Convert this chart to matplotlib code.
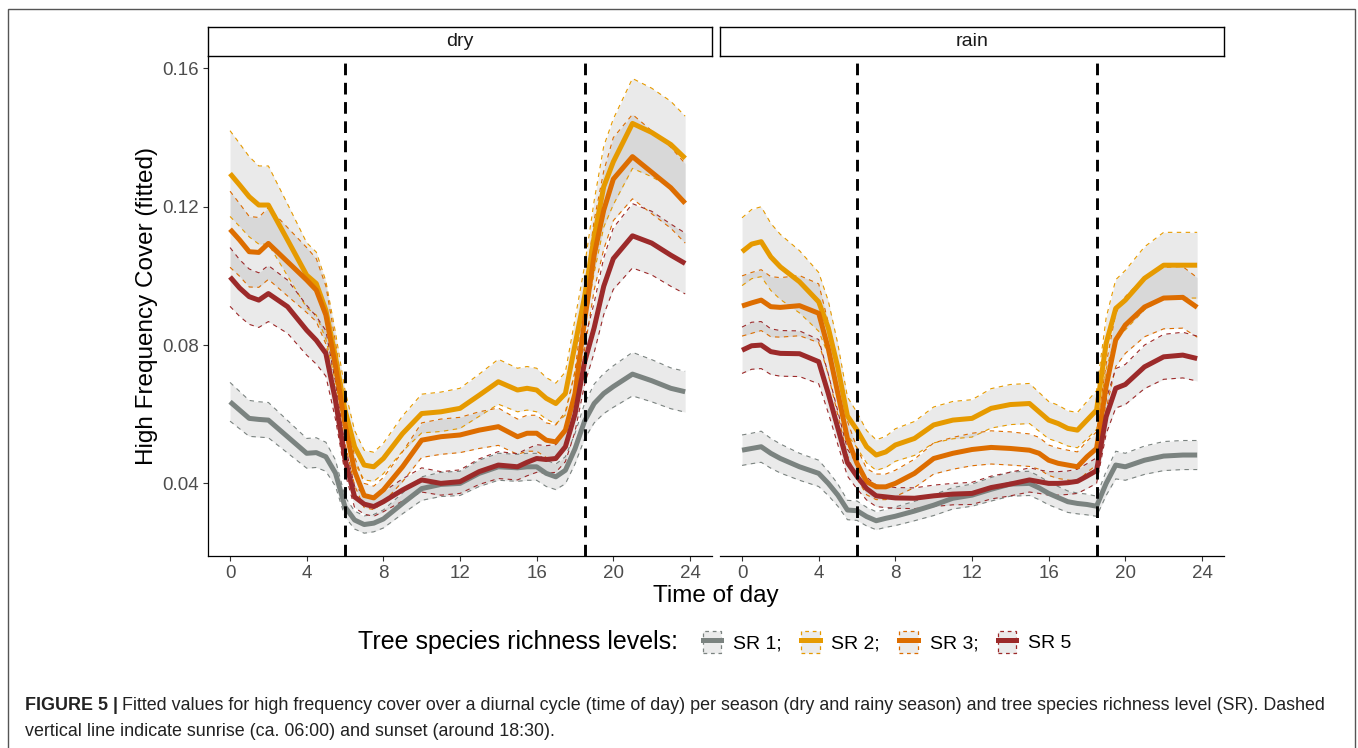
import numpy as np
import matplotlib
matplotlib.use("Agg")
import matplotlib.pyplot as plt
from matplotlib.patches import Rectangle, Patch
from matplotlib.lines import Line2D
from matplotlib.legend_handler import HandlerTuple

plt.rcParams['font.family'] = ['Liberation Sans', 'DejaVu Sans']

# time of day (hours) at which the fitted values are read
hours = [0, 0.5, 1, 1.5, 2, 3, 4, 4.5, 5, 5.5, 6, 6.5, 7, 7.5, 8, 9, 10, 11, 12, 13,
         14, 15, 15.5, 16, 16.5, 17, 17.5, 18, 18.5, 19, 19.5, 20, 21, 22, 23, 23.75]

levels = ["SR 1", "SR 2", "SR 3", "SR 5"]
colors = ["#7B8380", "#E69A00", "#DD6D00", "#9C2A2A"]

# dry season: fitted values
dry_sr1 = [0.0636, 0.0612, 0.0588, 0.0585, 0.0583, 0.0535, 0.0487, 0.0489, 0.0477, 0.0430,
           0.0332, 0.0294, 0.0281, 0.0285, 0.0297, 0.0342, 0.0385, 0.0397, 0.0400, 0.0429,
           0.0448, 0.0445, 0.0448, 0.0448, 0.0429, 0.0419, 0.0438, 0.0500, 0.0580, 0.0631,
           0.0660, 0.0680, 0.0716, 0.0697, 0.0675, 0.0665]
dry_sr2 = [0.1296, 0.1263, 0.1229, 0.1205, 0.1205, 0.1104, 0.1002, 0.0978, 0.0901, 0.0766,
           0.0612, 0.0506, 0.0453, 0.0448, 0.0472, 0.0544, 0.0602, 0.0607, 0.0617, 0.0655,
           0.0694, 0.0670, 0.0675, 0.0670, 0.0646, 0.0631, 0.0660, 0.0800, 0.0940, 0.1113,
           0.1258, 0.1330, 0.1441, 0.1415, 0.1380, 0.1340]
dry_sr3 = [0.1135, 0.1104, 0.1070, 0.1068, 0.1094, 0.1041, 0.0988, 0.0959, 0.0887, 0.0740,
           0.0570, 0.0435, 0.0365, 0.0358, 0.0381, 0.0448, 0.0525, 0.0535, 0.0540, 0.0554,
           0.0564, 0.0535, 0.0545, 0.0545, 0.0525, 0.0520, 0.0554, 0.0660, 0.0870, 0.1060,
           0.1190, 0.1280, 0.1345, 0.1300, 0.1255, 0.1210]
dry_sr5 = [0.0997, 0.0965, 0.0940, 0.0930, 0.0949, 0.0911, 0.0843, 0.0814, 0.0776, 0.0640,
           0.0470, 0.0361, 0.0340, 0.0333, 0.0347, 0.0381, 0.0410, 0.0400, 0.0405, 0.0434,
           0.0453, 0.0448, 0.0461, 0.0472, 0.0469, 0.0472, 0.0506, 0.0600, 0.0750, 0.0850,
           0.0970, 0.1050, 0.1116, 0.1095, 0.1060, 0.1036]

# dry season: half width of the confidence band
dry_hw1 = [0.0056, 0.0054, 0.0052, 0.0051, 0.0051, 0.0047, 0.0043, 0.0043, 0.0042, 0.0038,
           0.0029, 0.0026, 0.0025, 0.0025, 0.0026, 0.0030, 0.0034, 0.0035, 0.0035, 0.0038,
           0.0039, 0.0039, 0.0039, 0.0039, 0.0038, 0.0037, 0.0039, 0.0044, 0.0051, 0.0056,
           0.0058, 0.0060, 0.0063, 0.0061, 0.0059, 0.0059]
dry_hw2 = [0.0124, 0.0120, 0.0116, 0.0113, 0.0113, 0.0104, 0.0094, 0.0091, 0.0084, 0.0071,
           0.0057, 0.0047, 0.0043, 0.0042, 0.0044, 0.0051, 0.0056, 0.0057, 0.0058, 0.0061,
           0.0065, 0.0063, 0.0063, 0.0063, 0.0060, 0.0059, 0.0062, 0.0075, 0.0088, 0.0104,
           0.0117, 0.0124, 0.0130, 0.0128, 0.0125, 0.0122]
dry_hw3 = [0.0110, 0.0105, 0.0102, 0.0101, 0.0104, 0.0099, 0.0094, 0.0091, 0.0084, 0.0070,
           0.0054, 0.0041, 0.0035, 0.0034, 0.0036, 0.0043, 0.0050, 0.0051, 0.0051, 0.0053,
           0.0054, 0.0051, 0.0052, 0.0052, 0.0050, 0.0049, 0.0053, 0.0063, 0.0083, 0.0101,
           0.0113, 0.0120, 0.0122, 0.0120, 0.0117, 0.0115]
dry_hw5 = [0.0085, 0.0082, 0.0080, 0.0079, 0.0081, 0.0077, 0.0072, 0.0069, 0.0066, 0.0054,
           0.0040, 0.0031, 0.0029, 0.0028, 0.0029, 0.0032, 0.0035, 0.0034, 0.0034, 0.0037,
           0.0039, 0.0038, 0.0039, 0.0040, 0.0040, 0.0040, 0.0043, 0.0051, 0.0064, 0.0072,
           0.0082, 0.0089, 0.0093, 0.0092, 0.0090, 0.0088]

# rainy season: fitted values
rain_sr1 = [0.0496, 0.0501, 0.0506, 0.0487, 0.0472, 0.0448, 0.0429, 0.0400, 0.0366, 0.0323,
            0.0321, 0.0304, 0.0292, 0.0299, 0.0305, 0.0320, 0.0337, 0.0357, 0.0366, 0.0383,
            0.0398, 0.0400, 0.0387, 0.0371, 0.0359, 0.0347, 0.0342, 0.0339, 0.0334, 0.0400,
            0.0453, 0.0448, 0.0467, 0.0479, 0.0482, 0.0482]
rain_sr2 = [0.1070, 0.1092, 0.1099, 0.1055, 0.1026, 0.0983, 0.0925, 0.0850, 0.0735, 0.0595,
            0.0554, 0.0506, 0.0482, 0.0491, 0.0511, 0.0530, 0.0569, 0.0583, 0.0588, 0.0617,
            0.0628, 0.0631, 0.0607, 0.0583, 0.0573, 0.0559, 0.0554, 0.0583, 0.0612, 0.0805,
            0.0906, 0.0930, 0.0993, 0.1031, 0.1031, 0.1031]
rain_sr3 = [0.0913, 0.0922, 0.0930, 0.0911, 0.0909, 0.0914, 0.0892, 0.0790, 0.0660, 0.0530,
            0.0458, 0.0405, 0.0390, 0.0390, 0.0400, 0.0429, 0.0472, 0.0487, 0.0498, 0.0504,
            0.0501, 0.0496, 0.0487, 0.0467, 0.0458, 0.0453, 0.0448, 0.0477, 0.0501, 0.0680,
            0.0815, 0.0858, 0.0910, 0.0936, 0.0938, 0.0909]
rain_sr5 = [0.0785, 0.0798, 0.0800, 0.0781, 0.0776, 0.0775, 0.0752, 0.0660, 0.0560, 0.0460,
            0.0420, 0.0385, 0.0364, 0.0361, 0.0358, 0.0357, 0.0364, 0.0369, 0.0371, 0.0388,
            0.0398, 0.0410, 0.0405, 0.0400, 0.0400, 0.0402, 0.0406, 0.0421, 0.0437, 0.0593,
            0.0675, 0.0686, 0.0737, 0.0766, 0.0771, 0.0761]

# rainy season: half width of the confidence band
rain_hw1 = [0.0044, 0.0044, 0.0045, 0.0043, 0.0042, 0.0039, 0.0038, 0.0035, 0.0032, 0.0028,
            0.0028, 0.0027, 0.0026, 0.0026, 0.0027, 0.0028, 0.0030, 0.0031, 0.0032, 0.0034,
            0.0035, 0.0035, 0.0034, 0.0033, 0.0032, 0.0031, 0.0030, 0.0030, 0.0029, 0.0035,
            0.0040, 0.0039, 0.0041, 0.0042, 0.0042, 0.0042]
rain_hw2 = [0.0098, 0.0100, 0.0101, 0.0097, 0.0094, 0.0090, 0.0085, 0.0078, 0.0068, 0.0055,
            0.0051, 0.0047, 0.0044, 0.0045, 0.0047, 0.0049, 0.0052, 0.0054, 0.0054, 0.0057,
            0.0058, 0.0058, 0.0056, 0.0054, 0.0053, 0.0051, 0.0051, 0.0054, 0.0056, 0.0074,
            0.0083, 0.0086, 0.0091, 0.0095, 0.0095, 0.0095]
rain_hw3 = [0.0087, 0.0088, 0.0088, 0.0087, 0.0086, 0.0087, 0.0085, 0.0075, 0.0063, 0.0050,
            0.0044, 0.0038, 0.0037, 0.0037, 0.0038, 0.0041, 0.0045, 0.0046, 0.0047, 0.0048,
            0.0048, 0.0047, 0.0046, 0.0044, 0.0044, 0.0043, 0.0043, 0.0045, 0.0048, 0.0065,
            0.0077, 0.0082, 0.0086, 0.0089, 0.0089, 0.0086]
rain_hw5 = [0.0067, 0.0068, 0.0068, 0.0066, 0.0066, 0.0066, 0.0064, 0.0056, 0.0048, 0.0039,
            0.0036, 0.0033, 0.0031, 0.0031, 0.0030, 0.0030, 0.0031, 0.0031, 0.0032, 0.0033,
            0.0034, 0.0035, 0.0034, 0.0034, 0.0034, 0.0034, 0.0035, 0.0036, 0.0037, 0.0050,
            0.0057, 0.0058, 0.0063, 0.0065, 0.0066, 0.0065]

sunrise = 6.0
sunset = 18.5
x_ticks = [0, 4, 8, 12, 16, 20, 24]
y_ticks = [0.04, 0.08, 0.12, 0.16]
y_labels = ["0.04", "0.08", "0.12", "0.16"]

caption_bold = "FIGURE 5 |"
caption_1 = ("Fitted values for high frequency cover over a diurnal cycle (time of day) per season "
             "(dry and rainy season) and tree species richness level (SR). Dashed")
caption_2 = "vertical line indicate sunrise (ca. 06:00) and sunset (around 18:30)."

W, H = 1358, 748
fig = plt.figure(figsize=(W / 100, H / 100), dpi=100)


def fx(px):
    return px / W


def fy(py):
    return 1 - py / H


panels = [
    ("dry", 208, [dry_sr1, dry_sr2, dry_sr3, dry_sr5], [dry_hw1, dry_hw2, dry_hw3, dry_hw5]),
    ("rain", 720, [rain_sr1, rain_sr2, rain_sr3, rain_sr5], [rain_hw1, rain_hw2, rain_hw3, rain_hw5]),
]

tick_grey = "#4D4D4D"
for k, (name, left, series, widths) in enumerate(panels):
    ax = fig.add_axes([fx(left), fy(556), 504 / W, 500 / H])
    x = np.array(hours)
    # ribbons with dashed outlines
    for vals, hw, c in zip(series, widths, colors):
        m = np.array(vals)
        w = np.array(hw)
        ax.fill_between(x, m - w, m + w, color="#808080", alpha=0.16, lw=0, zorder=1)
        ax.plot(x, m - w, color=c, lw=0.8, ls=(0, (4, 4)), zorder=2)
        ax.plot(x, m + w, color=c, lw=0.8, ls=(0, (4, 4)), zorder=2)
    for vals, c in zip(series, colors):
        ax.plot(x, vals, color=c, lw=3.6, solid_capstyle="butt", zorder=3)
    for v in (sunrise, sunset):
        ax.axvline(v, color="black", lw=2.1, ls=(0, (4, 2.6)), zorder=4)

    ax.set_xlim(-1.15, 25.15)
    ax.set_ylim(0.019, 0.1636)
    ax.set_xticks(x_ticks)
    ax.set_xticklabels([str(t) for t in x_ticks])
    ax.set_yticks(y_ticks)
    ax.set_yticklabels(y_labels)
    ax.tick_params(axis="both", direction="out", length=3.5, width=0.8, color="#333333",
                   labelcolor=tick_grey, labelsize=13.5, pad=3)
    for s in ("top", "right"):
        ax.spines[s].set_visible(False)
    ax.spines["bottom"].set_linewidth(0.9)
    ax.spines["left"].set_linewidth(0.9)
    if k == 1:
        ax.spines["left"].set_visible(False)
        ax.tick_params(axis="y", left=False, labelleft=False)

    strip = fig.add_axes([fx(left), fy(56), 504 / W, 29 / H])
    strip.set_xticks([])
    strip.set_yticks([])
    for s in strip.spines.values():
        s.set_linewidth(1.0)
        s.set_color("black")
    strip.text(0.5, 0.5, name, ha="center", va="center", fontsize=14, color="#1A1A1A",
               transform=strip.transAxes)

fig.text(fx(716), fy(596), "Time of day", ha="center", va="center", fontsize=17.5)
fig.text(fx(147), fy(306), "High Frequency Cover (fitted)", ha="center", va="center",
         rotation=90, fontsize=17.5)

# legend
fig.text(fx(358), fy(642), "Tree species richness levels:", ha="left", va="center", fontsize=18)
handles = []
for c in colors:
    box = Patch(facecolor="#EBEBEB", edgecolor=c, linestyle=(0, (3, 3)), linewidth=0.9)
    ln = Line2D([], [], color=c, lw=3.6)
    handles.append((box, ln))
labels = [lv + ";" for lv in levels[:-1]] + [levels[-1]]
fig.legend(handles, labels, handler_map={tuple: HandlerTuple(ndivide=1, pad=0)},
           loc="center left", bbox_to_anchor=(fx(703), fy(642)), ncol=4, frameon=False,
           fontsize=14, handlelength=0.95, handleheight=1.35, handletextpad=0.6,
           columnspacing=1.0, borderpad=0, borderaxespad=0)

# caption, fitted to the width of the first line
cap_fam = ["Liberation Sans Narrow", "Liberation Sans", "DejaVu Sans"]
renderer = fig.canvas.get_renderer()
probe_b = fig.text(0, 0, caption_bold, fontsize=12, fontweight="bold", family=cap_fam)
probe_r = fig.text(0, 0, " " + caption_1, fontsize=12, family=cap_fam)
wid = probe_b.get_window_extent(renderer).width + probe_r.get_window_extent(renderer).width
probe_b.remove()
probe_r.remove()
fs = 12 * (1322 - 25) / wid

tb = fig.text(fx(25), fy(705), caption_bold, fontsize=fs, fontweight="bold", va="center",
              family=cap_fam, color="#222222")
bb = tb.get_window_extent(renderer)
fig.text((bb.x1 + 0.3 * fs) / W, fy(705), caption_1, fontsize=fs, va="center",
         family=cap_fam, color="#222222")
fig.text(fx(25), fy(731), caption_2, fontsize=fs, va="center", family=cap_fam, color="#222222")

# outer frame
fig.patches.append(Rectangle((fx(8), -0.01), (1355 - 8) / W, (H - 9) / H + 0.01,
                             transform=fig.transFigure, fill=False, edgecolor="#555555",
                             lw=1.0))

fig.savefig("out.png", dpi=100)
